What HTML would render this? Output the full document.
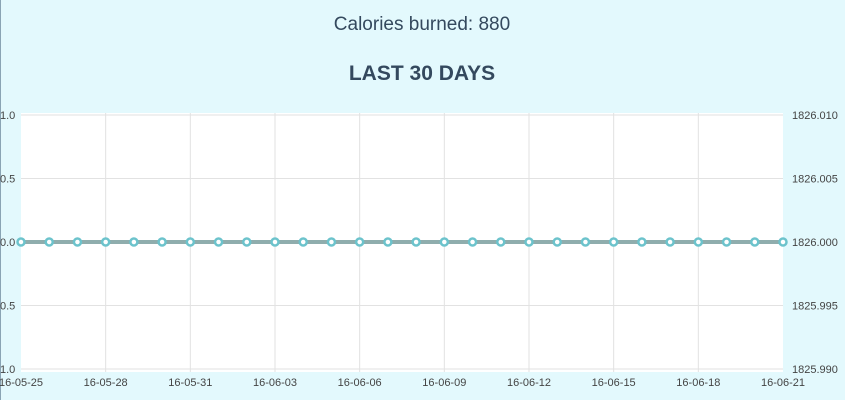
<!DOCTYPE html>
<html><head><meta charset="utf-8"><style>
body{margin:0;background:#e3f9fd;width:845px;height:400px;overflow:hidden;font-family:"Liberation Sans",sans-serif}
</style></head><body>
<svg width="845" height="400" style="position:absolute;left:0;top:0">
<rect x="0" y="0" width="845" height="400" fill="#e3f9fd"/>
<line x1="0.5" y1="0" x2="0.5" y2="400" stroke="#8aa4b4" stroke-width="1"/>
<text x="422" y="30" text-anchor="middle" font-size="19" fill="#34495e">Calories burned: 880</text>
<text x="422" y="80" text-anchor="middle" font-size="21" font-weight="bold" fill="#34495e">LAST 30 DAYS</text>
<rect x="21" y="113" width="762" height="259" fill="#ffffff"/>
<g id="grid"></g><g id="axes"></g><g id="series"></g>
</svg>
<script>
const dates=["16-05-25","16-05-26","16-05-27","16-05-28","16-05-29","16-05-30","16-05-31","16-06-01","16-06-02","16-06-03","16-06-04","16-06-05","16-06-06","16-06-07","16-06-08","16-06-09","16-06-10","16-06-11","16-06-12","16-06-13","16-06-14","16-06-15","16-06-16","16-06-17","16-06-18","16-06-19","16-06-20","16-06-21"];
const values=[0,0,0,0,0,0,0,0,0,0,0,0,0,0,0,0,0,0,0,0,0,0,0,0,0,0,0,0];
const leftTicks=[1.0,0.5,0.0,-0.5,-1.0];
const leftTickLabels=["1.0","0.5","0.0","0.5","1.0"];
const rightTickLabels=["1826.010","1826.005","1826.000","1825.995","1825.990"];
const NS="http://www.w3.org/2000/svg";
const x0=21,x1=783,yTop=115,yBot=369;
function xs(i){return x0+(x1-x0)*i/(dates.length-1);}
function ys(v){return yBot-(v+1)/2*(yBot-yTop);}
function mk(t,a,p){const e=document.createElementNS(NS,t);for(const k in a)e.setAttribute(k,a[k]);p.appendChild(e);return e;}
const grid=document.getElementById('grid'),axes=document.getElementById('axes'),series=document.getElementById('series');
leftTicks.forEach((v,i)=>{
  const y=ys(v);
  const l=mk('line',{x1:x0,x2:x1,y1:y,y2:y,stroke:'#e2e2e2'},grid);
  
  
  const t=mk('text',{x:0,y:y+4,'font-size':11,fill:'#444'},axes);t.textContent=leftTickLabels[i];
  
  
  const t2=mk('text',{x:792,y:y+4,'font-size':11,fill:'#444'},axes);t2.textContent=rightTickLabels[i];
  
  
});
dates.forEach((d,i)=>{
  if(i%3!==0)return;
  const x=xs(i);
  if(i>0&&i<dates.length-1){const l=mk('line',{x1:x,x2:x,y1:113,y2:372,stroke:'#e2e2e2'},grid);
  
  }
  const t=mk('text',{x:x,y:386,'font-size':11,fill:'#444','text-anchor':'middle'},axes);t.textContent=d;
  
  
});
const pts=values.map((v,i)=>xs(i)+','+ys(v)).join(' ');
const pl=mk('polyline',{points:pts,fill:'none',stroke:'#8fadad','stroke-width':4},series);


values.forEach((v,i)=>{
  const c=mk('circle',{cx:xs(i),cy:ys(v),r:3.5,fill:'#ffffff',stroke:'#6cc3cc','stroke-width':2.5},series);
  
  
});
</script>
</body></html>
